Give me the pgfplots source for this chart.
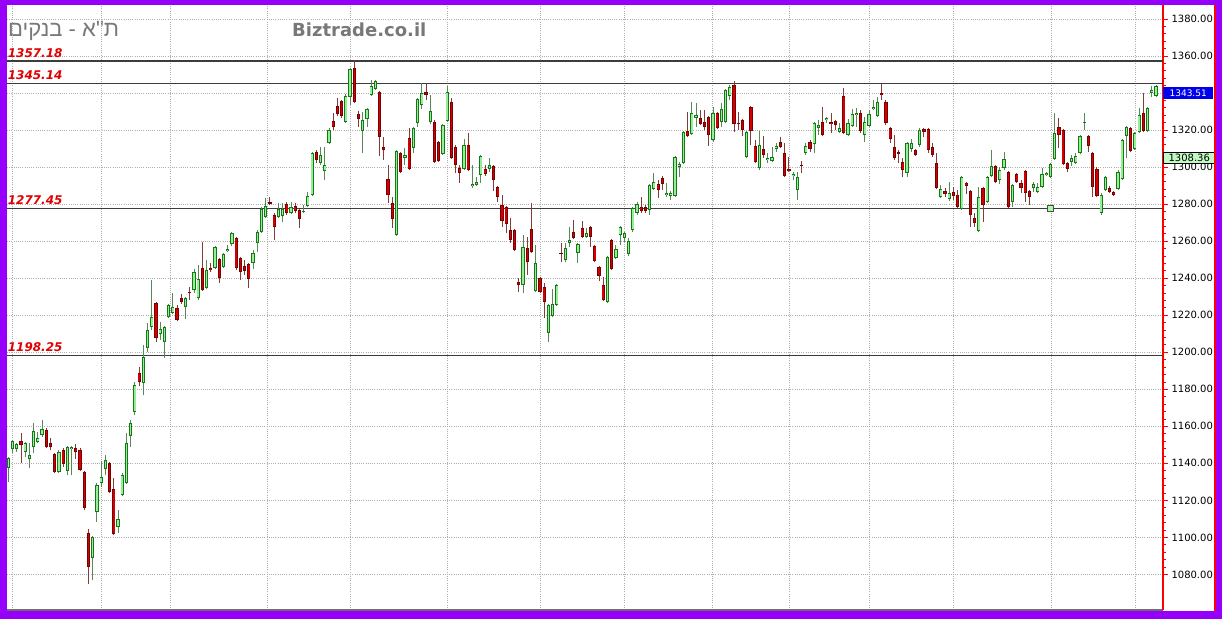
\documentclass[border=0pt]{standalone}
\usepackage{pgfplots}
\pgfplotsset{compat=1.18}
\usepackage{pgfplotstable}
\usepackage{fontspec}
\setmainfont{DejaVu Sans}
\newfontfamily\hebfont[Script=Hebrew]{Liberation Sans}
\TeXXeTstate=1

\definecolor{framepurple}{RGB}{150,0,250}
\definecolor{titlegray}{RGB}{120,120,120}
\definecolor{lvlred}{RGB}{225,0,0}
\definecolor{lvlgray}{RGB}{60,60,60}
\definecolor{gridgray}{RGB}{175,175,175}
\definecolor{axisgray}{RGB}{110,110,110}
\definecolor{upfill}{RGB}{150,238,150}
\definecolor{upedge}{RGB}{20,120,20}
\definecolor{upwick}{RGB}{90,135,90}
\definecolor{dnfill}{RGB}{210,0,0}
\definecolor{dnedge}{RGB}{120,0,0}
\definecolor{dnwick}{RGB}{130,60,60}
\definecolor{boxblue}{RGB}{0,0,235}
\definecolor{boxgreen}{RGB}{195,250,195}

% rising sessions: index, open, high, low, close
\pgfplotstableread{
i o h l c
0 1137.5 1143.4 1129.9 1142.9
1 1147.7 1152.6 1145.6 1152.1
2 1147.7 1151.0 1146.1 1150.4
4 1146.1 1151.5 1143.4 1151.0
5 1142.3 1151.0 1137.5 1144.5
6 1148.8 1161.8 1145.6 1157.5
7 1151.5 1156.9 1151.0 1153.7
8 1155.3 1163.4 1154.2 1158.5
12 1135.3 1147.2 1134.8 1146.1
14 1135.9 1149.4 1133.7 1148.8
15 1147.7 1149.4 1133.7 1148.8
20 1088.9 1100.6 1077.0 1100.2
21 1113.7 1129.4 1108.3 1128.3
22 1129.4 1141.3 1127.2 1132.6
23 1137.0 1144.5 1133.7 1141.8
26 1105.6 1114.8 1102.4 1110.0
27 1122.9 1134.8 1122.4 1133.7
28 1129.4 1156.4 1128.9 1151.0
29 1154.8 1163.4 1148.8 1161.8
30 1167.7 1183.9 1166.1 1182.3
32 1183.4 1203.9 1176.9 1197.4
33 1202.3 1215.8 1200.1 1212.0
34 1213.6 1239.0 1212.0 1219.0
36 1209.8 1216.3 1206.6 1212.5
37 1205.5 1214.0 1196.9 1213.6
38 1219.0 1226.0 1218.5 1225.5
39 1221.2 1232.0 1220.7 1224.4
42 1224.4 1229.8 1217.9 1229.3
44 1233.6 1244.9 1231.9 1243.3
45 1229.3 1247.1 1228.2 1239.5
47 1234.7 1249.8 1234.1 1244.4
49 1245.5 1257.4 1245.0 1256.8
51 1246.0 1253.6 1245.5 1253.0
52 1254.7 1257.9 1254.1 1255.7
53 1258.4 1264.9 1257.4 1264.4
58 1248.2 1255.2 1244.9 1253.6
59 1258.9 1266.0 1254.1 1264.9
60 1264.9 1278.4 1264.4 1277.3
61 1273.0 1283.3 1272.5 1279.0
64 1273.0 1280.6 1272.5 1277.3
65 1273.6 1280.6 1270.3 1277.3
67 1275.2 1281.1 1274.7 1278.4
70 1275.7 1279.5 1275.2 1276.3
71 1279.0 1286.5 1278.4 1284.4
72 1284.9 1308.1 1284.4 1307.6
74 1302.2 1310.8 1301.1 1306.5
75 1297.9 1310.8 1293.0 1301.1
76 1313.0 1321.1 1312.4 1320.0
80 1324.3 1339.4 1323.8 1338.4
81 1337.8 1353.5 1333.5 1352.9
84 1319.5 1329.7 1307.6 1325.4
85 1325.9 1331.9 1321.6 1331.3
86 1338.9 1347.0 1338.4 1343.8
87 1342.1 1347.0 1341.6 1346.5
92 1263.3 1309.2 1262.8 1308.7
94 1304.9 1310.3 1301.1 1306.5
96 1310.3 1321.6 1307.6 1321.1
97 1323.8 1337.3 1321.6 1336.7
98 1333.5 1345.4 1331.3 1340.0
100 1324.3 1338.9 1323.2 1330.3
103 1307.0 1323.2 1306.5 1322.7
104 1324.9 1343.8 1324.3 1340.5
108 1298.9 1315.1 1298.4 1311.9
110 1289.8 1301.1 1288.7 1290.8
111 1290.3 1294.6 1289.8 1291.9
112 1295.7 1306.5 1291.4 1306.0
114 1298.9 1304.9 1297.3 1301.1
122 1236.3 1263.3 1231.9 1256.8
125 1233.1 1257.9 1232.5 1248.2
128 1210.4 1226.0 1205.5 1225.5
129 1219.6 1234.1 1219.0 1226.0
130 1225.5 1236.8 1225.0 1236.3
132 1249.8 1258.9 1248.7 1256.3
133 1258.9 1267.6 1256.8 1260.6
135 1253.6 1258.9 1248.2 1258.4
137 1262.2 1267.1 1261.7 1264.4
142 1227.1 1251.9 1226.6 1251.4
144 1250.9 1257.9 1250.3 1255.7
145 1263.3 1268.2 1257.9 1267.6
146 1261.7 1264.9 1259.5 1264.4
147 1253.0 1261.7 1252.0 1260.1
148 1266.0 1278.4 1264.9 1277.9
149 1275.2 1281.1 1274.1 1280.0
152 1276.8 1290.8 1274.1 1290.3
153 1288.1 1296.8 1287.6 1291.9
156 1284.9 1291.4 1283.8 1286.0
157 1284.4 1287.1 1282.2 1286.0
158 1284.4 1306.0 1283.9 1305.4
159 1300.0 1302.7 1294.6 1301.6
160 1302.2 1319.5 1301.7 1318.9
162 1317.8 1335.1 1317.3 1329.2
163 1326.5 1334.6 1321.6 1328.1
167 1314.6 1332.4 1313.5 1329.2
169 1324.3 1334.6 1321.6 1331.3
170 1324.3 1342.1 1323.8 1341.6
171 1338.4 1344.3 1336.2 1343.2
175 1305.4 1319.5 1304.9 1318.9
178 1299.5 1319.5 1298.4 1311.9
180 1303.8 1307.6 1302.2 1304.9
181 1303.3 1310.8 1302.8 1305.4
182 1309.7 1313.0 1308.1 1311.4
186 1295.2 1297.3 1293.0 1296.2
187 1287.6 1297.3 1282.2 1294.6
189 1307.6 1313.0 1306.5 1311.4
191 1312.4 1324.3 1307.6 1323.8
192 1321.1 1325.4 1317.3 1322.7
194 1325.4 1327.0 1323.8 1326.5
197 1318.9 1323.8 1318.4 1321.1
199 1317.3 1325.9 1316.8 1323.8
200 1322.2 1331.3 1321.6 1328.6
201 1328.1 1331.9 1321.6 1329.2
203 1317.3 1327.0 1313.5 1324.3
204 1322.2 1330.8 1321.6 1328.6
205 1331.3 1336.2 1330.8 1332.4
206 1327.6 1337.8 1327.0 1335.1
213 1296.8 1313.5 1294.6 1313.0
214 1309.7 1315.1 1308.1 1313.0
216 1311.9 1321.1 1310.8 1320.0
221 1283.8 1290.3 1283.3 1288.1
223 1282.7 1291.9 1281.7 1286.0
226 1277.3 1295.2 1276.8 1294.6
230 1265.5 1289.2 1264.9 1283.8
232 1281.1 1295.2 1280.6 1294.6
233 1295.2 1309.2 1294.6 1300.6
235 1293.0 1300.0 1290.8 1298.4
236 1299.5 1308.1 1298.4 1304.3
238 1281.1 1290.8 1278.4 1290.3
243 1288.7 1291.9 1286.5 1290.8
244 1286.5 1291.4 1286.0 1289.2
245 1289.2 1299.5 1288.7 1296.2
246 1295.7 1297.3 1295.2 1296.8
247 1294.6 1302.2 1294.1 1301.6
248 1304.3 1329.2 1303.8 1318.4
252 1302.7 1306.5 1300.6 1304.9
253 1302.2 1307.6 1301.6 1306.0
254 1307.6 1317.3 1307.0 1316.8
255 1323.8 1329.2 1320.0 1324.3
259 1275.2 1286.0 1274.1 1284.9
260 1287.6 1295.2 1287.1 1294.6
263 1288.1 1298.4 1287.6 1297.3
264 1293.5 1315.1 1293.0 1314.6
265 1316.8 1322.1 1304.9 1321.6
267 1309.7 1318.9 1309.2 1318.4
268 1318.9 1331.9 1318.4 1328.1
270 1319.5 1332.4 1318.9 1331.9
271 1340.0 1343.8 1337.8 1341.6
272 1338.4 1344.3 1337.8 1343.51
}\upcandles

% falling sessions: index, open, high, low, close
\pgfplotstableread{
i o h l c
3 1152.1 1156.4 1140.2 1149.9
9 1158.0 1159.1 1148.5 1148.8
10 1151.0 1153.7 1147.2 1148.8
11 1145.0 1145.6 1134.8 1135.3
13 1147.2 1148.3 1138.0 1139.6
16 1148.3 1150.4 1142.3 1146.1
17 1147.2 1148.3 1135.9 1136.4
18 1135.3 1135.6 1114.8 1115.9
19 1102.4 1104.5 1074.8 1084.0
24 1140.2 1140.7 1124.0 1124.5
25 1126.1 1132.1 1101.3 1101.8
31 1188.8 1192.0 1181.8 1183.9
35 1226.6 1227.1 1205.5 1207.7
40 1223.9 1225.5 1217.0 1217.4
41 1229.3 1231.4 1226.0 1227.1
43 1232.5 1235.2 1228.2 1231.9
46 1245.5 1259.5 1233.1 1233.6
48 1245.5 1248.2 1243.3 1244.4
50 1250.3 1250.8 1237.4 1240.1
54 1261.7 1262.2 1244.4 1245.5
55 1250.9 1251.4 1239.0 1243.3
56 1246.6 1249.8 1241.7 1243.9
57 1247.6 1248.2 1234.7 1239.5
62 1281.0 1283.8 1279.5 1280.3
63 1274.1 1275.2 1260.6 1267.6
66 1280.0 1281.1 1274.1 1275.2
68 1279.0 1280.6 1275.2 1276.3
69 1276.8 1277.3 1267.1 1271.9
73 1308.1 1309.2 1302.2 1303.8
77 1324.9 1329.2 1320.0 1321.6
78 1333.0 1337.3 1327.6 1328.6
79 1335.7 1336.2 1326.5 1327.6
82 1353.5 1357.0 1334.6 1335.1
83 1328.6 1330.3 1321.6 1325.9
88 1340.5 1341.0 1306.0 1316.2
89 1310.8 1316.2 1303.8 1309.2
90 1293.5 1301.1 1280.6 1284.9
91 1280.6 1283.8 1267.1 1271.9
93 1307.6 1308.1 1296.8 1297.3
95 1315.7 1321.1 1298.4 1298.9
99 1340.5 1345.4 1336.2 1338.9
101 1324.3 1325.4 1302.2 1302.7
102 1313.5 1314.1 1302.7 1303.3
105 1335.1 1337.3 1304.4 1304.9
106 1310.8 1311.9 1296.8 1301.1
107 1299.5 1301.1 1291.4 1296.8
109 1311.9 1318.4 1297.9 1298.4
113 1298.9 1301.1 1295.2 1296.2
115 1300.6 1301.1 1287.1 1293.0
116 1289.2 1289.7 1281.1 1283.8
117 1279.5 1284.9 1267.6 1270.9
118 1278.4 1278.9 1264.4 1269.2
119 1266.0 1272.5 1259.0 1260.6
120 1266.0 1266.5 1254.7 1255.2
121 1237.9 1240.1 1232.5 1236.3
123 1256.3 1262.2 1241.7 1248.7
124 1266.5 1280.6 1253.6 1254.1
126 1240.1 1240.6 1231.9 1232.5
127 1235.2 1237.4 1218.5 1227.1
131 1253.6 1258.9 1248.7 1253.0
134 1264.9 1271.4 1261.2 1261.7
136 1267.1 1270.9 1261.7 1262.2
138 1267.6 1268.1 1256.8 1262.2
139 1257.4 1257.9 1248.7 1249.3
140 1246.0 1246.6 1238.5 1241.2
141 1236.3 1240.6 1227.7 1228.2
143 1260.6 1261.1 1244.4 1244.9
150 1278.4 1283.8 1275.2 1276.3
151 1278.4 1279.5 1275.2 1276.3
154 1290.8 1293.0 1283.3 1287.6
155 1294.1 1295.2 1287.6 1290.8
161 1319.5 1329.7 1316.3 1316.8
164 1326.5 1330.8 1322.7 1323.2
165 1324.3 1330.8 1320.0 1321.6
166 1327.0 1327.6 1311.4 1317.3
168 1329.2 1329.7 1320.6 1321.1
172 1344.3 1346.5 1318.9 1323.2
173 1323.8 1329.7 1320.0 1323.2
174 1325.4 1325.9 1316.8 1320.0
176 1332.4 1332.9 1311.9 1319.5
177 1311.4 1314.6 1302.2 1302.7
179 1309.7 1316.8 1304.9 1306.5
183 1313.5 1316.2 1310.3 1310.8
184 1307.6 1313.0 1294.6 1295.2
185 1298.9 1305.4 1297.3 1297.9
188 1301.1 1303.3 1296.8 1300.6
190 1313.5 1314.6 1308.1 1309.7
193 1324.3 1332.4 1316.8 1317.3
195 1324.3 1329.2 1318.4 1323.2
196 1324.9 1325.4 1320.0 1322.7
198 1338.4 1342.7 1317.8 1318.4
202 1329.2 1330.8 1318.4 1319.5
207 1340.0 1344.8 1336.2 1338.9
208 1335.1 1336.2 1322.7 1323.8
209 1321.1 1321.6 1313.0 1315.1
210 1310.8 1317.3 1303.8 1304.9
211 1308.1 1309.2 1302.2 1307.0
212 1302.7 1304.9 1294.6 1298.4
215 1309.2 1309.7 1306.0 1306.5
217 1320.5 1321.1 1316.2 1318.9
218 1320.5 1321.1 1307.6 1309.2
219 1310.8 1313.0 1305.4 1306.5
220 1302.2 1307.6 1288.2 1288.7
222 1287.1 1288.7 1283.8 1285.4
224 1286.5 1289.2 1282.2 1284.4
225 1284.9 1287.6 1277.9 1278.4
227 1291.4 1291.9 1285.4 1289.8
228 1287.1 1287.6 1267.6 1274.1
229 1272.5 1275.2 1267.6 1269.8
231 1288.7 1289.2 1270.3 1279.5
234 1300.6 1301.1 1291.4 1291.9
237 1297.3 1297.8 1277.9 1278.4
239 1296.2 1296.8 1291.4 1291.9
240 1291.4 1293.0 1286.0 1288.7
241 1297.9 1298.4 1281.1 1286.0
242 1287.1 1287.6 1279.5 1283.8
249 1321.6 1326.5 1310.3 1317.3
250 1320.0 1320.5 1301.1 1301.6
251 1302.2 1302.7 1297.3 1298.9
256 1316.8 1317.3 1308.1 1311.4
257 1307.6 1308.1 1283.8 1289.2
258 1298.9 1300.0 1283.8 1284.4
261 1288.7 1290.0 1286.0 1286.5
262 1286.5 1287.1 1284.4 1284.9
266 1321.1 1321.6 1308.1 1308.7
269 1329.2 1340.0 1318.9 1319.5
}\downcandles

\pgfplotsset{
  stick/.style 2 args={draw=none, mark=none, forget plot,
    error bars/y dir=plus, error bars/y explicit, error bars/error mark=none,
    error bars/error bar style={draw=#1, line width=#2, solid}},
  lvlline/.style={lvlgray, line width=1.3pt, forget plot},
}
\tikzset{
  lvllabel/.style={anchor=base west, inner sep=0pt, xshift=0.6pt, yshift=3.8pt,
    text=lvlred, font=\bfseries\itshape\fontsize{12}{14}\selectfont},
}

\begin{document}
\begin{tikzpicture}
\useasboundingbox (0,0) rectangle (1222pt,619pt);
\fill[framepurple] (0,0) rectangle (1222pt,619pt);
\fill[white] (7pt,8pt) rectangle (1215pt,614pt);

\node[anchor=base west, inner sep=0pt, text=titlegray,
      font=\hebfont\fontsize{22}{26}\selectfont] at (8pt,582pt) {\beginR ת"א - בנקים\endR};
\node[anchor=base west, inner sep=0pt, text=titlegray,
      font=\bfseries\fontsize{18}{22}\selectfont] at (292pt,582pt) {Biztrade.co.il};

\begin{axis}[
  at={(7pt,9pt)}, anchor=south west,
  scale only axis, width=1156pt, height=605pt,
  xmin=-0.31, xmax=273.66, ymin=1060.8, ymax=1387.5,
  axis x line*=bottom, axis y line*=right,
  x axis line style={-, draw=axisgray, line width=1.2pt},
  y axis line style={-, draw=red, line width=1.3pt},
  xtick={0.9,22,38.3,61.3,81,104,126.2,145.9,166.8,185,204,223.9,247.1,267},
  xticklabels={},
  xtick style={draw=none},
  ytick={1080,1100,...,1380},
  % the 1340 label sits under the last-close box
  yticklabels={1080.00,1100.00,1120.00,1140.00,1160.00,1180.00,1200.00,1220.00,
    1240.00,1260.00,1280.00,1300.00,1320.00,,1360.00,1380.00},
  minor y tick num=4,
  tick align=outside,
  ytick style={draw=red, line width=0.7pt},
  minor tick style={draw=red, line width=0.6pt},
  major tick length=5pt, minor tick length=3pt,
  xmajorgrids, ymajorgrids,
  major grid style={draw=gridgray, dash pattern=on 1pt off 1.2pt, line width=0.7pt},
  yticklabel pos=right,
  yticklabel style={font=\fontsize{10}{12}\selectfont, text=black},
  clip mode=individual,
]
% support / resistance levels
\addplot[lvlline] coordinates {(-1,1357.18) (275,1357.18)};
\addplot[lvlline] coordinates {(-1,1345.14) (275,1345.14)};
\addplot[lvlline] coordinates {(-1,1277.45) (275,1277.45)};
\addplot[lvlline] coordinates {(-1,1198.25) (275,1198.25)};

% wicks
\addplot[stick={upwick}{0.9pt}] table[x=i, y=l, y error plus expr=\thisrow{h}-\thisrow{l}] {\upcandles};
\addplot[stick={dnwick}{0.9pt}] table[x=i, y=l, y error plus expr=\thisrow{h}-\thisrow{l}] {\downcandles};
% bodies: outline then fill
\addplot[stick={upedge}{3.2pt}] table[x=i, y=o, y error plus expr={max(\thisrow{c}-\thisrow{o},0.6)}] {\upcandles};
\addplot[stick={upfill}{1.5pt}] table[x=i, y expr=\thisrow{o}+0.45, y error plus expr={max(\thisrow{c}-\thisrow{o}-0.9,0)}] {\upcandles};
\addplot[stick={dnedge}{3.2pt}] table[x=i, y=c, y error plus expr={max(\thisrow{o}-\thisrow{c},0.6)}] {\downcandles};
\addplot[stick={dnfill}{1.5pt}] table[x=i, y expr=\thisrow{c}+0.45, y error plus expr={max(\thisrow{o}-\thisrow{c}-0.9,0)}] {\downcandles};

% alert marker on the 1277.45 level
\addplot[only marks, mark=square*, mark size=3pt, forget plot,
  mark options={fill=boxgreen!85!green, draw=black!70, line width=0.6pt}] coordinates {(246.95,1277.45)};

\node[lvllabel] at (axis cs:-0.31,1357.18) {1357.18};
\node[lvllabel] at (axis cs:-0.31,1345.14) {1345.14};
\node[lvllabel] at (axis cs:-0.31,1277.45) {1277.45};
\node[lvllabel] at (axis cs:-0.31,1198.25) {1198.25};

\node[anchor=north west, inner sep=0pt, minimum width=50pt, minimum height=12.3pt,
      fill=boxblue, text=white, font=\fontsize{9}{10}\selectfont] at (axis cs:273.66,1343.51) {1343.51};
\node[anchor=north west, inner sep=0pt, minimum width=52pt, minimum height=11.7pt,
      fill=boxgreen, draw=black, line width=0.6pt, text=black,
      font=\fontsize{10}{11}\selectfont] at (axis cs:273.66,1308.36) {1308.36};
\end{axis}

\draw[red, line width=1.2pt] (1215pt,8pt) -- (1215pt,614pt);
\end{tikzpicture}
\end{document}
